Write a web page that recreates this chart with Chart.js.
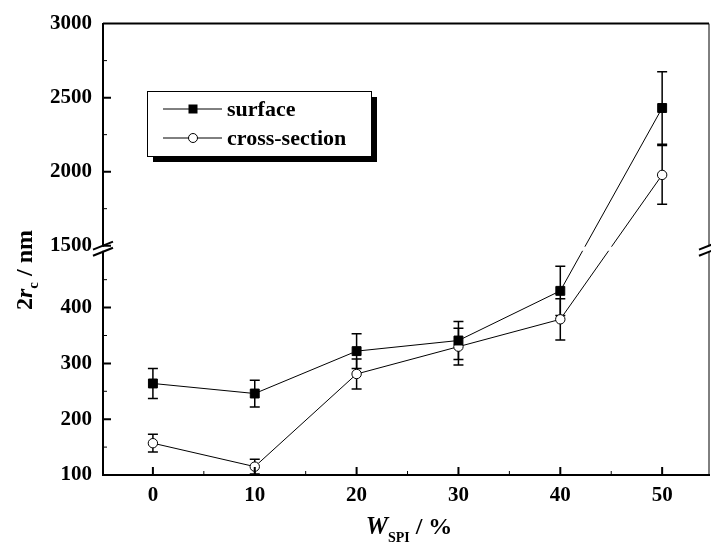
<!DOCTYPE html>
<html>
<head>
<meta charset="utf-8">
<script src="https://cdn.jsdelivr.net/npm/chart.js@4.4.1/dist/chart.umd.min.js"></script>
<style>
  html, body { margin: 0; padding: 0; background: #fff; }
</style>
</head>
<body>
<canvas id="myChart_re" width="711" height="545"></canvas>
<script>
// data
const wValues = [0, 10, 20, 30, 40, 50];
const surfaceValues = [264, 246, 322, 341, 430, 2430];
const surfaceErrors = [27, 24, 31, 34, 44, 245];
const crossValues = [157, 115, 281, 330, 379, 1978];
const crossErrors = [16, 13, 27, 33, 37, 198];
const xTicks = [0, 10, 20, 30, 40, 50];
const xMinorTicks = [5, 15, 25, 35, 45];
const yTicks = [100, 200, 300, 400, 1500, 2000, 2500, 3000];
const yMinorTicks = [150, 250, 350, 450, 1750, 2250, 2750];
const lowerRange = [100, 500];
const upperRange = [1500, 3000];

const FONT = '"Liberation Serif", "DejaVu Serif", serif';

// broken y axis: lower part 100-500, upper part 1500-3000
const LOW_FRAC = 0.4945;
const HIGH_FRAC = 0.508;
function valueToFrac(v) {
  if (v <= lowerRange[1]) return (v - lowerRange[0]) / (lowerRange[1] - lowerRange[0]) * LOW_FRAC;
  if (v >= upperRange[0]) return HIGH_FRAC + (v - upperRange[0]) / (upperRange[1] - upperRange[0]) * (1 - HIGH_FRAC);
  return LOW_FRAC + (v - lowerRange[1]) / (upperRange[0] - lowerRange[1]) * (HIGH_FRAC - LOW_FRAC);
}
function fracToValue(f) {
  if (f <= LOW_FRAC) return lowerRange[0] + f / LOW_FRAC * (lowerRange[1] - lowerRange[0]);
  if (f >= HIGH_FRAC) return upperRange[0] + (f - HIGH_FRAC) / (1 - HIGH_FRAC) * (upperRange[1] - upperRange[0]);
  return lowerRange[1] + (f - LOW_FRAC) / (HIGH_FRAC - LOW_FRAC) * (upperRange[0] - lowerRange[1]);
}

class BrokenScale extends Chart.LinearScale {
  buildTicks() {
    return yTicks.map(v => ({ value: v }));
  }
  getPixelForValue(v) {
    return this.bottom - valueToFrac(v) * (this.bottom - this.top);
  }
  getValueForPixel(p) {
    return fracToValue((this.bottom - p) / (this.bottom - this.top));
  }
}
BrokenScale.id = 'broken';
BrokenScale.defaults = Chart.LinearScale.defaults;
Chart.register(BrokenScale);

function drawMarker(ctx, type, x, y) {
  ctx.save();
  ctx.lineWidth = 1;
  ctx.strokeStyle = '#000';
  if (type === 'rect') {
    ctx.fillStyle = '#000';
    ctx.fillRect(x - 4.5, y - 4.5, 9, 9);
  } else {
    ctx.fillStyle = '#fff';
    ctx.beginPath();
    ctx.arc(x, y, 4.5, 0, Math.PI * 2);
    ctx.fill();
    ctx.stroke();
  }
  ctx.restore();
}

const errorBars = {
  id: 'errorBars',
  beforeDatasetsDraw(chart) {
    const ctx = chart.ctx;
    const xs = chart.scales.x, ys = chart.scales.y;
    const sets = [[surfaceValues, surfaceErrors], [crossValues, crossErrors]];
    ctx.save();
    ctx.strokeStyle = '#000';
    ctx.lineWidth = 1.5;
    sets.forEach(([vals, errs]) => {
      vals.forEach((v, i) => {
        const x = xs.getPixelForValue(wValues[i]);
        const y1 = ys.getPixelForValue(v + errs[i]);
        const y2 = ys.getPixelForValue(v - errs[i]);
        ctx.beginPath();
        ctx.moveTo(x, y1); ctx.lineTo(x, y2);
        ctx.moveTo(x - 5, y1); ctx.lineTo(x + 5, y1);
        ctx.moveTo(x - 5, y2); ctx.lineTo(x + 5, y2);
        ctx.stroke();
      });
    });
    ctx.restore();
  }
};

const decorations = {
  id: 'decorations',
  afterDatasetsDraw(chart) {
    const ctx = chart.ctx;
    const a = chart.chartArea;
    const xs = chart.scales.x, ys = chart.scales.y;
    const pLow = ys.getPixelForValue(lowerRange[1]);
    const pHigh = ys.getPixelForValue(upperRange[0]);
    ctx.save();

    // gap at the axis break
    ctx.fillStyle = '#fff';
    ctx.fillRect(a.left - 2, pHigh + 1, a.right - a.left + 4, pLow - pHigh - 2);

    // frame: top and right
    ctx.strokeStyle = '#000';
    ctx.lineWidth = 2;
    ctx.beginPath();
    ctx.moveTo(a.left, a.top); ctx.lineTo(a.right, a.top);
    ctx.stroke();
    ctx.lineWidth = 1;
    ctx.beginPath();
    ctx.moveTo(a.right, a.top); ctx.lineTo(a.right, pHigh);
    ctx.moveTo(a.right, pLow); ctx.lineTo(a.right, a.bottom);
    ctx.stroke();

    // break marks
    ctx.lineWidth = 2;
    [a.left, a.right].forEach(ax => {
      [pHigh, pLow].forEach(py => {
        ctx.beginPath();
        ctx.moveTo(ax - 10, py + 4);
        ctx.lineTo(ax + 10, py - 4);
        ctx.stroke();
      });
    });

    // inward ticks
    ctx.lineWidth = 2;
    ctx.beginPath();
    yTicks.forEach(v => {
      const y = ys.getPixelForValue(v);
      if (v === lowerRange[0] || v === upperRange[1]) return;
      ctx.moveTo(a.left, y); ctx.lineTo(a.left + 8, y);
    });
    xTicks.forEach(v => {
      const x = xs.getPixelForValue(v);
      ctx.moveTo(x, a.bottom); ctx.lineTo(x, a.bottom - 8);
    });
    ctx.stroke();
    ctx.lineWidth = 1;
    ctx.beginPath();
    yMinorTicks.forEach(v => {
      const y = ys.getPixelForValue(v);
      ctx.moveTo(a.left, y); ctx.lineTo(a.left + 4, y);
    });
    xMinorTicks.forEach(v => {
      const x = xs.getPixelForValue(v);
      ctx.moveTo(x, a.bottom); ctx.lineTo(x, a.bottom - 4);
    });
    ctx.stroke();

    // legend box with shadow
    const lx = 147, ly = 91, lw = 224, lh = 65;
    ctx.fillStyle = '#000';
    ctx.fillRect(lx + 6, ly + 6, lw, lh);
    ctx.fillStyle = '#fff';
    ctx.fillRect(lx, ly, lw, lh);
    ctx.lineWidth = 1;
    ctx.strokeRect(lx + 0.5, ly + 0.5, lw, lh);
    const rows = [['surface', 'rect', 109], ['cross-section', 'circle', 138]];
    ctx.font = 'bold 22px ' + FONT;
    ctx.textBaseline = 'middle';
    ctx.textAlign = 'left';
    rows.forEach(([label, style, y]) => {
      ctx.beginPath();
      ctx.moveTo(163, y); ctx.lineTo(222, y);
      ctx.stroke();
      drawMarker(ctx, style, 193, y);
      ctx.fillStyle = '#000';
      ctx.fillText(label, 227, y + 1);
    });

    // axis titles
    ctx.fillStyle = '#000';
    ctx.textBaseline = 'alphabetic';
    const drawParts = (parts, cx, baseY) => {
      let total = 0;
      parts.forEach(p => { ctx.font = p.font; total += ctx.measureText(p.text).width; });
      let x = cx - total / 2;
      parts.forEach(p => {
        ctx.font = p.font;
        ctx.fillText(p.text, x, baseY + (p.dy || 0));
        x += ctx.measureText(p.text).width;
      });
    };
    drawParts([
      { text: 'W', font: 'italic bold 25px ' + FONT },
      { text: 'SPI', font: 'bold 14px ' + FONT, dy: 8 },
      { text: ' / %', font: 'bold 24px ' + FONT }
    ], 409, 534);

    ctx.translate(32, 270);
    ctx.rotate(-Math.PI / 2);
    drawParts([
      { text: '2', font: 'bold 24px ' + FONT },
      { text: 'r', font: 'italic bold 24px ' + FONT },
      { text: 'c', font: 'bold 15px ' + FONT, dy: 6 },
      { text: ' / nm', font: 'bold 24px ' + FONT }
    ], 0, 0);
    ctx.restore();
  }
};

const ctx = document.getElementById('myChart_re').getContext('2d');

window.myChart_re = new Chart(ctx, {
  type: 'line',
  data: {
    datasets: [
      {
        label: 'surface',
        data: wValues.map((x, i) => ({ x: x, y: surfaceValues[i] })),
        borderColor: '#000',
        borderWidth: 1,
        pointStyle: 'rect',
        pointRadius: 6.3,
        pointBackgroundColor: '#000',
        pointBorderColor: '#000',
        pointBorderWidth: 1,
        tension: 0,
      },
      {
        label: 'cross-section',
        data: wValues.map((x, i) => ({ x: x, y: crossValues[i] })),
        borderColor: '#000',
        borderWidth: 1,
        pointStyle: 'circle',
        pointRadius: 4.7,
        pointBackgroundColor: '#fff',
        pointBorderColor: '#000',
        pointBorderWidth: 1,
        tension: 0,
      },
    ],
  },
  options: {
    responsive: false,
    animation: false,
    devicePixelRatio: 1,
    layout: { autoPadding: false, padding: { top: 22, right: 2, left: 0, bottom: 0 } },
    plugins: {
      legend: { display: false },
      tooltip: { enabled: false },
    },
    scales: {
      x: {
        type: 'linear',
        min: -4.9,
        max: 54.6,
        grid: { display: false, drawTicks: false },
        border: { display: true, color: '#000', width: 2 },
        afterBuildTicks: (s) => { s.ticks = xTicks.map(v => ({ value: v })); },
        afterFit: (s) => { s.height = 70; s.paddingLeft = 0; s.paddingRight = 0; },
        ticks: {
          autoSkip: false,
          maxRotation: 0,
          padding: 8,
          color: '#000',
          font: { family: FONT, size: 21, weight: 'bold' },
          callback: (v) => String(v),
        },
      },
      y: {
        type: 'broken',
        min: 100,
        max: 3000,
        grid: { display: false, drawTicks: false },
        border: { display: true, color: '#000', width: 2 },
        afterFit: (s) => { s.width = 103; },
        ticks: {
          autoSkip: false,
          padding: 11,
          color: '#000',
          font: { family: FONT, size: 21, weight: 'bold' },
          callback: (v) => String(v),
        },
      },
    },
  },
  plugins: [errorBars, decorations],
});
</script>
</body>
</html>
